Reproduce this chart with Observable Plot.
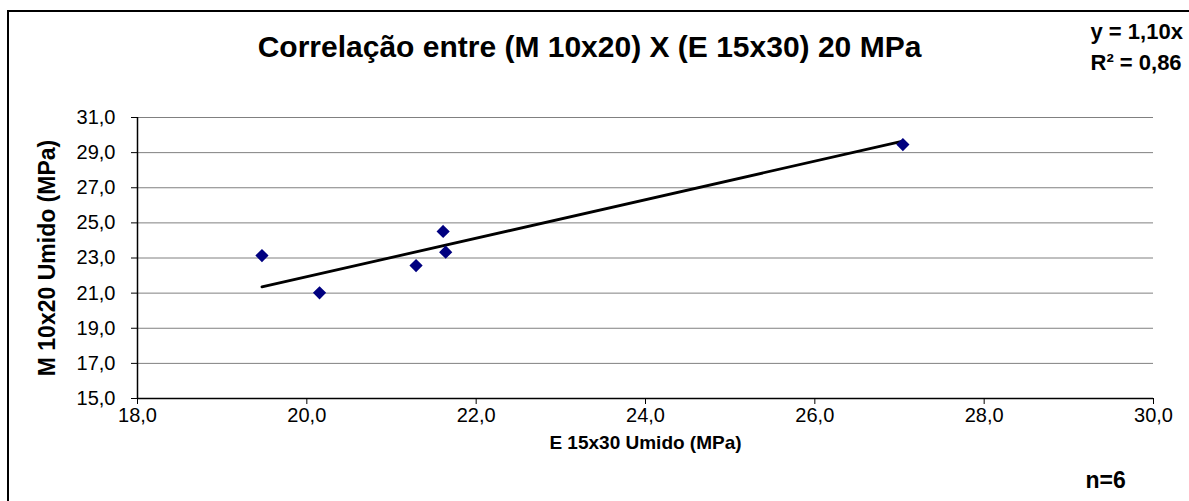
<!DOCTYPE html>
<html>
<head>
<meta charset="utf-8">
<script src="https://cdn.jsdelivr.net/npm/d3@7"></script>
<script src="https://cdn.jsdelivr.net/npm/@observablehq/plot@0.6"></script>
<style>
  html, body { margin: 0; padding: 0; background: #fff; overflow: hidden; }
  #wrap { position: relative; width: 1189px; height: 501px; overflow: hidden; }
  #border { position: absolute; left: 7px; top: 10px; width: 1300px; height: 700px; border: 2px solid #000; box-sizing: border-box; pointer-events: none; }
  svg { font-family: "Liberation Sans", Arial, sans-serif; }
</style>
</head>
<body>
<div id="wrap"><div id="border"></div></div>
<script>
const title = "Correlação entre (M 10x20) X (E 15x30) 20 MPa";
const xLabel = "E 15x30 Umido (MPa)";
const yLabel = "M 10x20 Umido (MPa)";
const eqLines = ["y = 1,10x", "R² = 0,86"];
const nLabel = "n=6";

const xE15 = [19.47, 20.15, 21.29, 21.61, 21.64, 27.04];
const yM10 = [23.14, 21.02, 22.57, 24.51, 23.33, 29.46];

const xTicks = [18, 20, 22, 24, 26, 28, 30];
const yTicks = [15, 17, 19, 21, 23, 25, 27, 29, 31];

const pts = xE15.map((x, i) => ({x, y: yM10[i]}));
// Excel-style trend line through origin: slope = Σxy / Σx²
const slope = d3.sum(pts, d => d.x * d.y) / d3.sum(pts, d => d.x * d.x);
const trend = d3.extent(xE15).map(x => ({x, y: slope * x}));

const fmt = d => d.toFixed(1).replace(".", ",");

const chart = Plot.plot({
  width: 1189,
  height: 501,
  marginLeft: 137,
  marginRight: 36,
  marginTop: 117,
  marginBottom: 103,
  style: { fontFamily: "'Liberation Sans', Arial, sans-serif", background: "transparent" },
  x: { domain: [18, 30], ticks: xTicks, tickFormat: fmt, label: null },
  y: { domain: [15, 31], ticks: yTicks, tickFormat: fmt, label: null },
  marks: [
    Plot.ruleY(yTicks.filter(t => t > 15), { stroke: "#808080", strokeWidth: 1 }),
    Plot.axisX({ ticks: xTicks, tickFormat: fmt, tickSize: 6, tickPadding: 3, fontSize: 20, label: null, stroke: "#000", color: "#000" }),
    Plot.axisY({ ticks: yTicks, tickFormat: fmt, tickSize: 6, tickPadding: 16, fontSize: 20, label: null, stroke: "#000", color: "#000" }),
    Plot.ruleY([15], { stroke: "#000", strokeWidth: 1.5 }),
    Plot.ruleX([18], { stroke: "#000", strokeWidth: 1.5 }),
    Plot.line(trend, { x: "x", y: "y", stroke: "#000", strokeWidth: 2.8 }),
    Plot.dot(pts, { x: "x", y: "y", symbol: "diamond2", r: 5, fill: "#000080", stroke: "#000080" }),
    Plot.text([title], { frameAnchor: "top", lineAnchor: "middle", dx: -56, dy: -70, fontSize: 30, fontWeight: "bold", fill: "#000" }),
    Plot.text([yLabel], { frameAnchor: "left", textAnchor: "middle", lineAnchor: "middle", dx: -90, rotate: -90, fontSize: 23, fontWeight: "bold", fill: "#000" }),
    Plot.text([xLabel], { frameAnchor: "bottom", lineAnchor: "middle", dy: 44, fontSize: 19, fontWeight: "bold", fill: "#000" }),
    Plot.text([eqLines[0]], { frameAnchor: "top-right", textAnchor: "start", lineAnchor: "middle", dx: -63, dy: -86, fontSize: 22, fontWeight: "bold", fill: "#000" }),
    Plot.text([eqLines[1]], { frameAnchor: "top-right", textAnchor: "start", lineAnchor: "middle", dx: -63, dy: -55, fontSize: 22, fontWeight: "bold", fill: "#000" }),
    Plot.text([nLabel], { frameAnchor: "bottom-right", textAnchor: "start", lineAnchor: "middle", dx: -68, dy: 82, fontSize: 23, fontWeight: "bold", fill: "#000" })
  ]
});
chart.style.position = "absolute";
chart.style.left = "0";
chart.style.top = "0";
document.getElementById("wrap").appendChild(chart);
</script>
</body>
</html>
